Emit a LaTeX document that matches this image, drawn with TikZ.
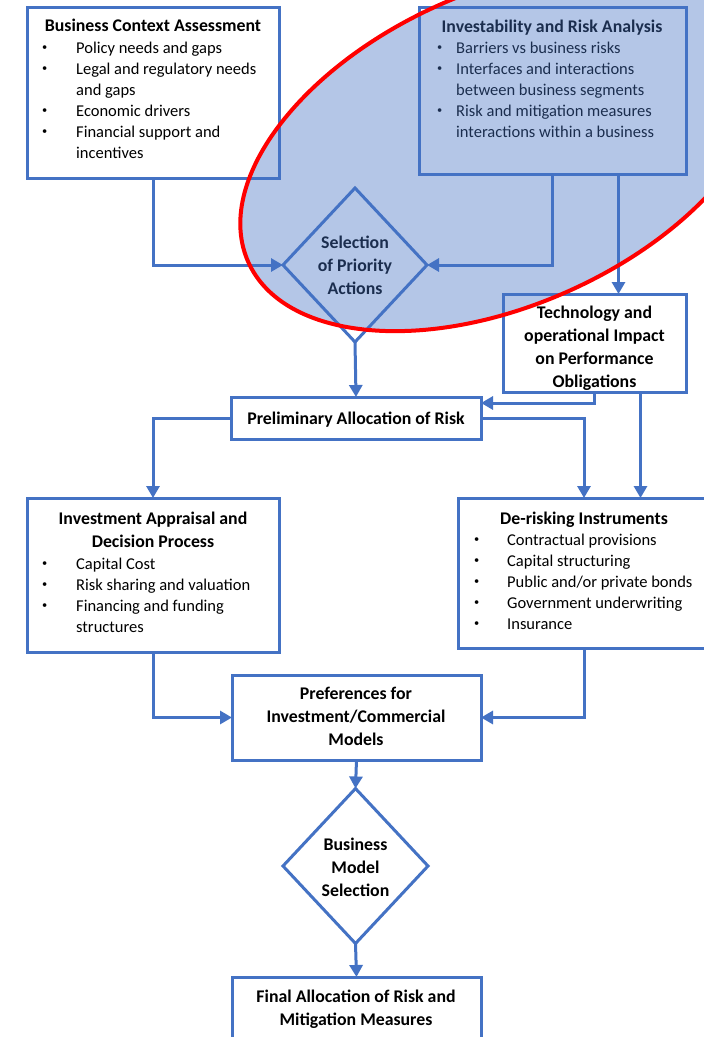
\documentclass[tikz,border=0pt]{standalone}
\usepackage{fontspec}
\setmainfont{Carlito}
\usetikzlibrary{shapes.geometric,arrows.meta,calc}
\definecolor{obl}{HTML}{4472C4}
\newcommand{\mycenter}[1]{\begin{tabular}[t]{@{}c@{}}#1\end{tabular}}
\newcommand{\bul}{\raisebox{2.6pt}{\scalebox{0.63}{\textbullet}}}
\begin{document}
\begin{tikzpicture}[x=1pt,y=-1pt,
  box/.style={draw=obl, line width=3pt, fill=white, inner sep=0, outer sep=0, anchor=north west, rectangle},
  dia/.style={draw=obl, line width=3pt, fill=white, diamond, inner sep=0, outer sep=0},
  conn/.style={draw=obl, line width=3pt, -{Triangle[width=13pt,length=12pt]}},
  hd/.style={font=\fontsize{17.8}{23}\selectfont\bfseries, inner sep=0, anchor=base},
  ls/.style={font=\fontsize{16.5}{21}\selectfont, inner sep=0, anchor=base west},
]
\useasboundingbox (0,0) rectangle (704,1037);
\fill[white] (0,0) rectangle (704,1037);
\clip (0,0) rectangle (704,1037);

% boxes
\node[box, minimum width=252pt, minimum height=171pt] (bca) at (27,7) {};
\node[box, minimum width=267pt, minimum height=167pt] (inv) at (419,7) {};
\node[box, minimum width=183pt, minimum height=98pt] (tech) at (503,294) {};
\node[box, minimum width=250pt, minimum height=42pt] (prelim) at (231,397) {};
\node[box, minimum width=252pt, minimum height=154pt] (ia) at (27,498) {};
\node[box, minimum width=252pt, minimum height=150pt] (derisk) at (458,498) {};
\node[box, minimum width=249pt, minimum height=85pt] (pref) at (232,675) {};
\node[box, minimum width=249pt, minimum height=90pt] (final) at (232,977) {};
\node[dia, minimum width=144pt, minimum height=154pt] (sel) at (355,265) {};
\node[dia, minimum width=145pt, minimum height=155pt] (bms) at (355.5,866) {};

% texts
\node[hd] (bcah) at (153,31) {Business Context Assessment};
\node[ls] (bcal) at (42,53) {\begin{tabular}[t]{@{}p{34pt}@{}l@{}}\bul & Policy needs and gaps\\ \bul & Legal and regulatory needs\\ & and gaps\\ \bul & Economic drivers\\ \bul & Financial support and\\ & incentives\end{tabular}};
\node[hd] (invh) at (552,32) {Investability and Risk Analysis};
\node[ls] (invl) at (437,53) {\begin{tabular}[t]{@{}p{19pt}@{}l@{}}\bul & Barriers vs business risks\\ \bul & Interfaces and interactions\\ & between business segments\\ \bul & Risk and mitigation measures\\ & interactions within a business\end{tabular}};
\node[hd] (selt) at (355,248) {\mycenter{Selection\\of Priority\\Actions}};
\node[hd] (techt) at (594.5,318) {\mycenter{Technology and\\operational Impact\\on Performance\\Obligations}};
\node[hd] (prelimt) at (356,424) {Preliminary Allocation of Risk};
\node[hd] (iah) at (153,524) {\mycenter{Investment Appraisal and\\Decision Process}};
\node[ls] (ial) at (42,569) {\begin{tabular}[t]{@{}p{34pt}@{}l@{}}\bul & Capital Cost\\ \bul & Risk sharing and valuation\\ \bul & Financing and funding\\ & structures\end{tabular}};
\node[hd] (derh) at (584,524) {De-risking Instruments};
\node[ls] (derl) at (474,545) {\begin{tabular}[t]{@{}p{33pt}@{}l@{}}\bul & Contractual provisions\\ \bul & Capital structuring\\ \bul & Public and/or private bonds\\ \bul & Government underwriting\\ \bul & Insurance\end{tabular}};
\node[hd] (preft) at (356,699) {\mycenter{Preferences for\\Investment/Commercial\\Models}};
\node[hd] (bmst) at (355.5,850) {\mycenter{Business\\Model\\Selection}};
\node[hd] (finalt) at (356,1002) {\mycenter{Final Allocation of Risk and\\Mitigation Measures}};

% connectors
\draw[conn] (bca.south) |- (sel.west);
\draw[conn] (inv.south) |- (sel.east);
\draw[conn] ([xshift=66pt]inv.south) -- ([xshift=66pt]inv.south |- tech.north);
\draw[conn] (sel.south) -- (prelim.north);
\draw[conn] (tech.south) |- ([yshift=15pt]prelim.east);
\draw[conn] ([xshift=46pt]tech.south) -- ([xshift=46pt]tech.south |- derisk.north);
\draw[conn] (prelim.west) -| (ia.north);
\draw[conn] (prelim.east) -| (derisk.north);
\draw[conn] (ia.south) |- (pref.west);
\draw[conn] (derisk.south) |- (pref.east);
\draw[conn] (pref.south) -- (bms.north);
\draw[conn] (bms.south) -- (final.north);

% highlight ellipse
\draw[draw=red, line width=4pt, fill=obl, fill opacity=0.4, rotate around={24:(504,148)}] (504,148) ellipse [x radius=280, y radius=157];
\end{tikzpicture}
\end{document}
